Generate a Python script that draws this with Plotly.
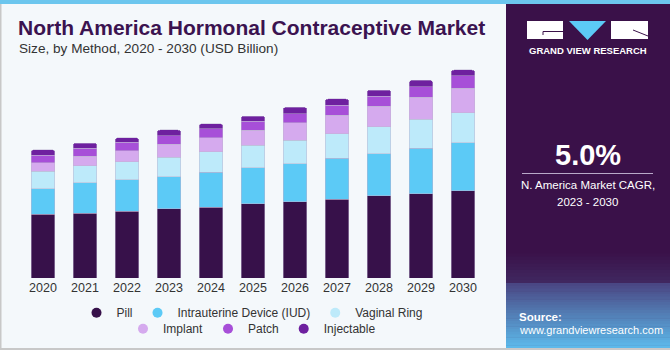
import plotly.graph_objects as go

years = ["2020", "2021", "2022", "2023", "2024", "2025", "2026", "2027", "2028", "2029", "2030"]
pill = [3.38, 3.43, 3.55, 3.66, 3.76, 3.94, 4.04, 4.17, 4.35, 4.47, 4.63]
iud = [1.36, 1.61, 1.66, 1.71, 1.84, 1.91, 2.01, 2.17, 2.23, 2.41, 2.53]
vaginal_ring = [0.92, 0.92, 0.95, 1.03, 1.08, 1.19, 1.26, 1.30, 1.43, 1.52, 1.59]
implant = [0.46, 0.50, 0.58, 0.69, 0.74, 0.79, 0.92, 0.99, 1.08, 1.17, 1.31]
patch = [0.39, 0.42, 0.46, 0.46, 0.48, 0.49, 0.48, 0.53, 0.53, 0.57, 0.65]
injectable = [0.30, 0.27, 0.23, 0.30, 0.28, 0.26, 0.34, 0.33, 0.34, 0.33, 0.32]
labels = {"2020": "$6.8B", "2021": "$7.1B"}

series = [
    ("Pill", pill, "#37114a"),
    ("Intrauterine Device (IUD)", iud, "#5ccaf6"),
    ("Vaginal Ring", vaginal_ring, "#bdeafa"),
    ("Implant", implant, "#d5aaee"),
    ("Patch", patch, "#a74fd8"),
    ("Injectable", injectable, "#6e209f"),
]

W, H = 670, 350
L, R, T, B = 22, 186, 60, 72
PW, PH = W - L - R, H - T - B
FONT = "Liberation Sans, Arial, sans-serif"


def px(x):
    return (x - L) / PW


def py(y):
    return (H - B - y) / PH


fig = go.Figure()
for name, vals, color in series:
    fig.add_trace(go.Bar(
        x=years, y=vals, name=name, marker_color=color,
        marker_line=dict(width=0.6, color="rgba(190,180,210,0.8)"),
        showlegend=False, legendgroup=name,
        hovertemplate="%{x}: $%{y:.2f}B<extra>" + name + "</extra>",
    ))

for i, (name, vals, color) in enumerate(series):
    fig.add_trace(go.Scatter(
        x=[None], y=[None], mode="markers", name=name, legendgroup=name,
        marker=dict(symbol="circle", size=10, color=color),
        legend="legend" if i < 3 else "legend2",
    ))

totals = [sum(v) for v in zip(*[s[1] for s in series])]
for yr, txt in labels.items():
    idx = years.index(yr)
    fig.add_annotation(x=yr, y=totals[idx], xref="x", yref="y", text=txt,
                       showarrow=False, yanchor="bottom", yshift=4,
                       font=dict(family=FONT, size=13.5, color="#333333"))

shapes = []
# top strip
shapes.append(dict(type="rect", xref="paper", yref="paper", x0=px(0), x1=px(W),
                   y0=py(4), y1=py(0), fillcolor="#6cc6ee", line_width=0, layer="above"))
# right panel
shapes.append(dict(type="rect", xref="paper", yref="paper", x0=px(506), x1=px(W),
                   y0=py(348), y1=py(4), fillcolor="#3a1149", line_width=0))


def mix(c1, c2, t):
    a = [int(c1[i:i + 2], 16) for i in (1, 3, 5)]
    b = [int(c2[i:i + 2], 16) for i in (1, 3, 5)]
    return "#" + "".join("%02x" % round(a[k] + (b[k] - a[k]) * t) for k in range(3))


# subtle fade above source box
n = 10
for k in range(n):
    y0 = 250 + k * 33 / n
    shapes.append(dict(type="rect", xref="paper", yref="paper", x0=px(506), x1=px(W),
                       y0=py(y0 + 33 / n + 0.5), y1=py(y0),
                       fillcolor=mix("#3a1149", "#40275f", k / (n - 1)), line_width=0))
# source box gradient
n = 24
for k in range(n):
    y0 = 283 + k * 65 / n
    shapes.append(dict(type="rect", xref="paper", yref="paper", x0=px(506), x1=px(W),
                       y0=py(min(348, y0 + 65 / n + 0.5)), y1=py(y0),
                       fillcolor=mix("#4a4784", "#5cb9ea", k / (n - 1)), line_width=0))
# borders
shapes.append(dict(type="rect", xref="paper", yref="paper", x0=px(0), x1=px(1.5),
                   y0=py(350), y1=py(4), fillcolor="#c8c8c8", line_width=0))
shapes.append(dict(type="rect", xref="paper", yref="paper", x0=px(0), x1=px(W),
                   y0=py(350), y1=py(348), fillcolor="#c8c8c8", line_width=0))
# logo
shapes.append(dict(type="rect", xref="paper", yref="paper", x0=px(527), x1=px(563),
                   y0=py(39), y1=py(21), fillcolor="white", line_width=0))
shapes.append(dict(type="path", xref="paper", yref="paper",
                   path="M %f,%f L %f,%f L %f,%f Z" % (px(569), py(21), px(606), py(21), px(587.5), py(40)),
                   fillcolor="#5ccaf6", line_width=0))
shapes.append(dict(type="rect", xref="paper", yref="paper", x0=px(611), x1=px(648),
                   y0=py(39), y1=py(21), fillcolor="white", line_width=0))
shapes.append(dict(type="line", xref="paper", yref="paper", x0=px(543), x1=px(563),
                   y0=py(31.5), y1=py(31.5), line=dict(color="#3a1149", width=1)))
shapes.append(dict(type="line", xref="paper", yref="paper", x0=px(543), x1=px(543),
                   y0=py(31.5), y1=py(35), line=dict(color="#3a1149", width=1)))
shapes.append(dict(type="line", xref="paper", yref="paper", x0=px(633), x1=px(648),
                   y0=py(30), y1=py(36), line=dict(color="#3a1149", width=1)))
# divider line
shapes.append(dict(type="line", xref="paper", yref="paper", x0=px(522), x1=px(653),
                   y0=py(173.5), y1=py(173.5), line=dict(color="#b9a9c9", width=1)))

ann = [
    dict(text="Size, by Method, 2020 - 2030 (USD Billion)", x=px(17), y=py(49),
         xanchor="left", yanchor="middle", font=dict(family=FONT, size=13.6, color="#333333")),
    dict(text="<b>GRAND VIEW RESEARCH</b>", x=px(587.5), y=py(51), xanchor="center", yanchor="middle",
         font=dict(family=FONT, size=9.5, color="white")),
    dict(text="<b>5.0%</b>", x=px(587.5), y=py(155), xanchor="center", yanchor="middle",
         font=dict(family=FONT, size=29, color="white")),
    dict(text="N. America Market CAGR,", x=px(587.5), y=py(185), xanchor="center", yanchor="middle",
         font=dict(family=FONT, size=11.5, color="white")),
    dict(text="2023 - 2030", x=px(587.5), y=py(201.5), xanchor="center", yanchor="middle",
         font=dict(family=FONT, size=11.5, color="white")),
    dict(text="<b>Source:</b>", x=px(517), y=py(316.5), xanchor="left", yanchor="middle",
         font=dict(family=FONT, size=11.5, color="white")),
    dict(text="www.grandviewresearch.com", x=px(517), y=py(329.5), xanchor="left", yanchor="middle",
         font=dict(family=FONT, size=11, color="white")),
]
for a in ann:
    fig.add_annotation(xref="paper", yref="paper", showarrow=False, **a)

fig.update_layout(
    width=W, height=H,
    margin=dict(l=L, r=R, t=T, b=B, pad=0, autoexpand=False),
    paper_bgcolor="#f4f8fb", plot_bgcolor="#f4f8fb",
    barmode="stack", bargap=0.43, barcornerradius=3,
    title=dict(text="<b>North America Hormonal Contraceptive Market</b>",
               x=18 / W, xref="container", xanchor="left",
               y=1 - 28 / H, yref="container", yanchor="middle",
               font=dict(family=FONT, size=21, color="#3b1350")),
    xaxis=dict(type="category", range=[-0.5, 10.5], showgrid=False, zeroline=False,
               showline=False, ticks="", ticklabelstandoff=0, automargin=False,
               tickfont=dict(family=FONT, size=12.5, color="#333333")),
    yaxis=dict(range=[0, PH / 18.87], visible=False, fixedrange=True, automargin=False),
    legend=dict(orientation="h", xref="container", yref="container",
                x=252 / W, xanchor="center", y=1 - 312.7 / H, yanchor="middle",
                font=dict(family=FONT, size=12, color="#333333"), bgcolor="rgba(0,0,0,0)",
                itemwidth=30, tracegroupgap=0),
    legend2=dict(orientation="h", xref="container", yref="container",
                 x=252 / W, xanchor="center", y=1 - 328.7 / H, yanchor="middle",
                 font=dict(family=FONT, size=12, color="#333333"), bgcolor="rgba(0,0,0,0)",
                 itemwidth=30, tracegroupgap=0),
    shapes=shapes,
    showlegend=True,
)

fig.write_html("out.html")
